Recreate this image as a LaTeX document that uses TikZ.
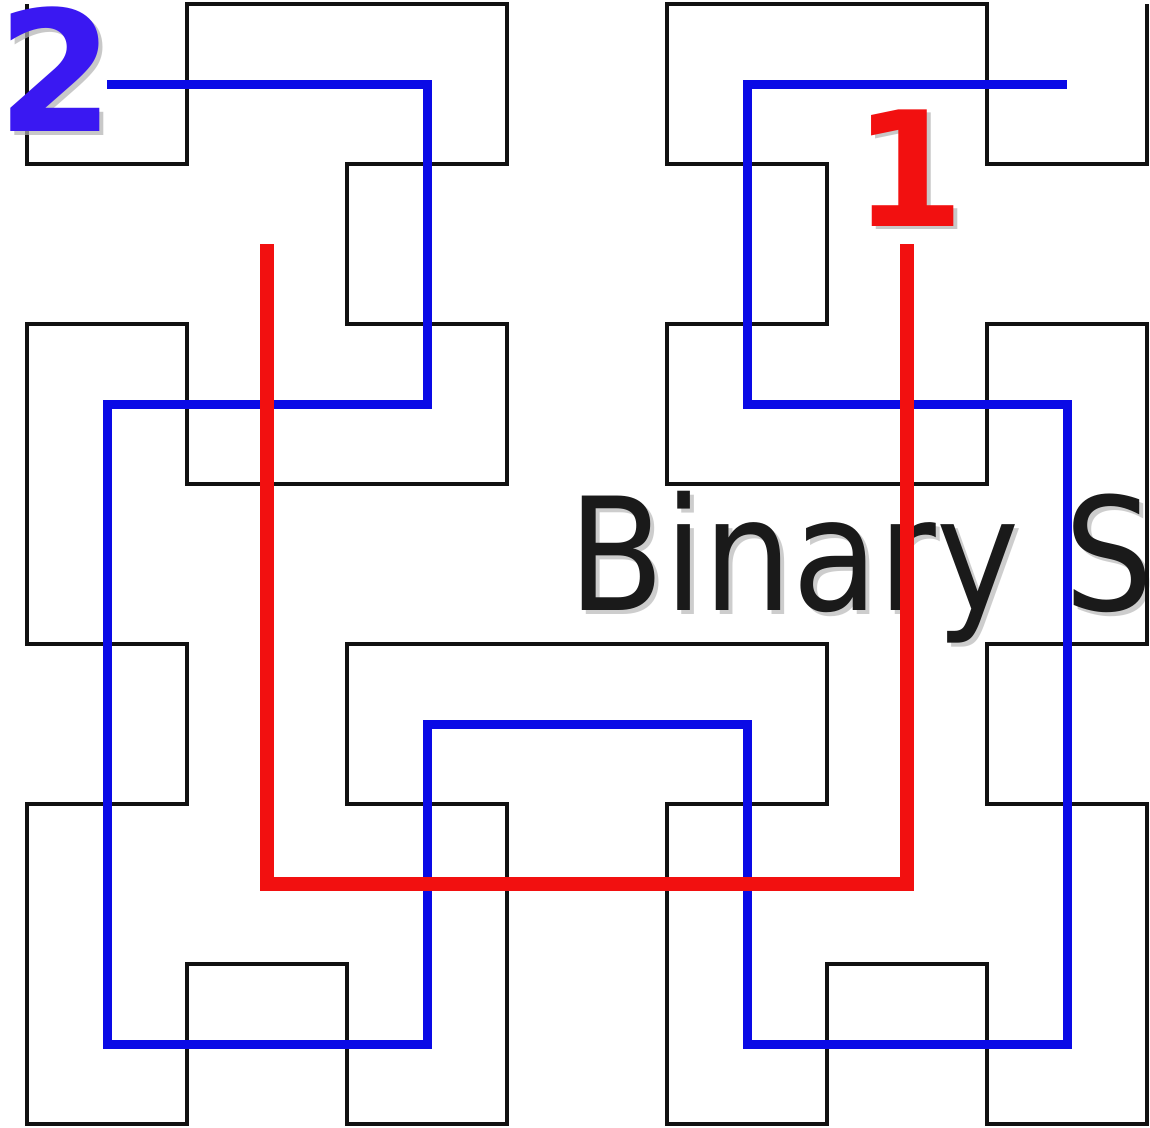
\documentclass[tikz,border=0pt]{standalone}
\usepackage{fontspec}
\setmainfont{DejaVu Sans}
\definecolor{blk}{HTML}{111111}
\definecolor{bl}{HTML}{0A0AE6}
\definecolor{rd}{HTML}{F21010}
\definecolor{lbl}{HTML}{3A18F2}
\definecolor{txt}{HTML}{1A1A1A}
\begin{document}
\begin{tikzpicture}[x=1pt,y=-1pt,
  blackline/.style={draw=blk,line width=4.8pt,line join=miter},
  blueline/.style={draw=bl,line width=9pt,line join=miter},
  redline/.style={draw=rd,line width=14pt,line join=miter},
  lab/.style={inner sep=0pt,outer sep=0pt,anchor=base}]
\useasboundingbox (0,0) rectangle (1150,1127);
\clip (0,0) rectangle (1150,1127);
\fill[white] (0,0) rectangle (1150,1127);
% text
\node[lab,anchor=base west,text=gray!55,opacity=0.7] (ts) at (572,614) {\fontsize{157}{160}\selectfont\scalebox{0.895}[1]{Binary S}};
\node[lab,anchor=base west,text=txt] (t) at (568,610) {\fontsize{157}{160}\selectfont\scalebox{0.895}[1]{Binary S}};
% black order-3 curve
\def\G(#1,#2){(27+160*#1,4+160*#2)}
\draw[blackline] \G(0,0) -- \G(0,1) -- \G(1,1) -- \G(1,0) -- \G(3,0) -- \G(3,1) -- \G(2,1) -- \G(2,2) -- \G(3,2) -- \G(3,3) -- \G(1,3) -- \G(1,2) -- \G(0,2) -- \G(0,4) -- \G(1,4) -- \G(1,5) -- \G(0,5) -- \G(0,7) -- \G(1,7) -- \G(1,6) -- \G(2,6) -- \G(2,7) -- \G(3,7) -- \G(3,5) -- \G(2,5) -- \G(2,4) -- \G(5,4) -- \G(5,5) -- \G(4,5) -- \G(4,7) -- \G(5,7) -- \G(5,6) -- \G(6,6) -- \G(6,7) -- \G(7,7) -- \G(7,5) -- \G(6,5) -- \G(6,4) -- \G(7,4) -- \G(7,2) -- \G(6,2) -- \G(6,3) -- \G(4,3) -- \G(4,2) -- \G(5,2) -- \G(5,1) -- \G(4,1) -- \G(4,0) -- \G(6,0) -- \G(6,1) -- \G(7,1) -- \G(7,0);
% blue order-2 curve
\draw[blueline] (107,84) -- (427,84) -- (427,404) -- (107,404) -- (107,1044) -- (427,1044) -- (427,724) -- (747,724) -- (747,1044) -- (1067,1044) -- (1067,404) -- (747,404) -- (747,84) -- (1067,84);
% red order-1 curve
\draw[redline] (267,244) -- (267,884) -- (907,884) -- (907,244);
% labels
\node[lab,text=gray!60,opacity=0.7] (l2s) at (60,135) {\fontsize{168}{168}\selectfont\bfseries 2};
\node[lab,text=lbl] (l2) at (56,131) {\fontsize{168}{168}\selectfont\bfseries 2};
\node[lab,text=gray!60,opacity=0.7] (l1s) at (913,229) {\fontsize{160}{160}\selectfont\bfseries 1};
\node[lab,text=rd] (l1) at (909,226) {\fontsize{160}{160}\selectfont\bfseries 1};
\end{tikzpicture}
\end{document}
